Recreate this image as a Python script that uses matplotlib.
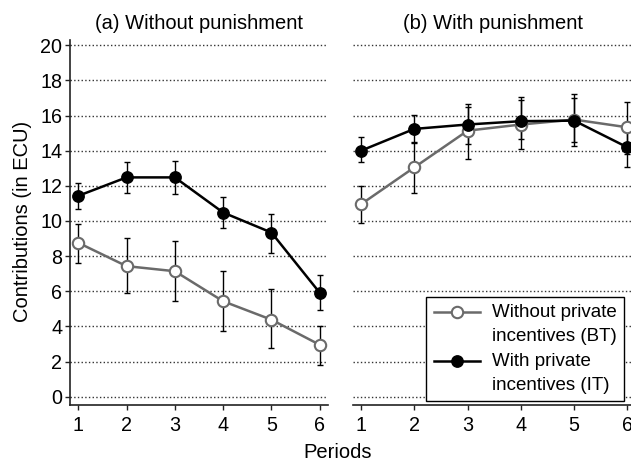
import numpy as np
import matplotlib
matplotlib.use("Agg")
import matplotlib.pyplot as plt
from matplotlib.legend_handler import HandlerLine2D

plt.rcParams['font.family'] = ['Liberation Sans', 'DejaVu Sans']

periods = [1, 2, 3, 4, 5, 6]
titles = ["(a) Without punishment", "(b) With punishment"]
legend_labels = ["Without private\nincentives (BT)", "With private\nincentives (IT)"]
yticks = [0, 2, 4, 6, 8, 10, 12, 14, 16, 18, 20]

# Panel (a): without punishment
a_bt = [8.76, 7.43, 7.14, 5.43, 4.38, 2.95]
a_bt_lo = [7.62, 5.91, 5.43, 3.71, 2.76, 1.81]
a_bt_hi = [9.81, 9.05, 8.86, 7.14, 6.10, 4.00]
a_it = [11.43, 12.48, 12.48, 10.48, 9.34, 5.91]
a_it_lo = [10.67, 11.62, 11.53, 9.62, 8.19, 4.95]
a_it_hi = [12.15, 13.34, 13.43, 11.34, 10.38, 6.95]

# Panel (b): with punishment
b_bt = [10.95, 13.05, 15.14, 15.49, 15.77, 15.33]
b_bt_lo = [9.90, 11.62, 13.52, 14.10, 14.48, 13.81]
b_bt_hi = [12.00, 14.44, 16.50, 16.86, 17.00, 16.76]
b_it = [14.00, 15.24, 15.49, 15.68, 15.71, 14.19]
b_it_lo = [13.34, 14.48, 14.38, 14.67, 14.29, 13.05]
b_it_hi = [14.76, 16.04, 16.67, 17.05, 17.24, 15.30]

W, H = 631, 462
fig = plt.figure(figsize=(W / 100, H / 100), dpi=100)

ymin, ymax = -0.474, 20.3
ax_top = 40
ax_bot = 405
axA = fig.add_axes([70 / W, (H - ax_bot) / H, 258 / W, (ax_bot - ax_top) / H])
axB = fig.add_axes([352.7 / W, (H - ax_bot) / H, 283.1 / W, (ax_bot - ax_top) / H])

grey = '#6a6a6a'
fs_tick = 14.2


class UpHandler(HandlerLine2D):
    def __init__(self, shift, **kw):
        super().__init__(**kw)
        self.shift = shift

    def create_artists(self, legend, orig_handle, xdescent, ydescent,
                       width, height, fontsize, trans):
        return super().create_artists(legend, orig_handle, xdescent,
                                      ydescent - 2 * self.shift, width,
                                      height, fontsize, trans)


def draw(ax, bt, bt_lo, bt_hi, it, it_lo, it_hi):
    x = np.array(periods)
    for m, lo, hi in ((bt, bt_lo, bt_hi), (it, it_lo, it_hi)):
        m = np.array(m); lo = np.array(lo); hi = np.array(hi)
        ax.errorbar(x, m, yerr=[m - lo, hi - m], fmt='none', ecolor='black',
                    elinewidth=1.0, capsize=2.4, capthick=1.0, zorder=2)
    l1, = ax.plot(x, bt, color=grey, lw=1.8, marker='o', ms=8.2,
                  mfc='white', mec=grey, mew=1.5, zorder=3)
    l2, = ax.plot(x, it, color='black', lw=1.8, marker='o', ms=8.2,
                  mfc='black', mec='black', zorder=4)
    ax.set_ylim(ymin, ymax)
    ax.set_yticks(yticks)
    ax.grid(axis='y', linestyle=':', color='#333333', linewidth=1.0, zorder=0)
    ax.set_axisbelow(True)
    ax.set_xticks(periods)
    ax.spines['top'].set_visible(False)
    ax.spines['right'].set_visible(False)
    ax.spines['bottom'].set_color('#222222')
    ax.spines['left'].set_color('#222222')
    ax.spines['bottom'].set_linewidth(1.2)
    ax.spines['left'].set_linewidth(1.2)
    ax.tick_params(axis='both', direction='out', length=3.6, width=1.0,
                   color='#222222', labelsize=fs_tick)
    ax.tick_params(axis='x', pad=4.5)
    ax.tick_params(axis='y', pad=2)
    return l1, l2


draw(axA, a_bt, a_bt_lo, a_bt_hi, a_it, a_it_lo, a_it_hi)
axA.set_xlim(0.83, 6.17)
l1, l2 = draw(axB, b_bt, b_bt_lo, b_bt_hi, b_it, b_it_lo, b_it_hi)
axB.set_xlim(0.844, 6.156)
axB.spines['left'].set_visible(False)
axB.tick_params(axis='y', left=False, labelleft=False)

fig.text(199 / W, (H - 29) / H, titles[0], ha='center', va='baseline', fontsize=14.5)
fig.text(493 / W, (H - 29) / H, titles[1], ha='center', va='baseline', fontsize=14.5)
fig.text(338 / W, (H - 457.5) / H, "Periods", ha='center', va='baseline', fontsize=14.5)
fig.text(23 / W, (H - 221) / H, "Contributions (in ECU)", ha='center', va='center',
         rotation=90, fontsize=14.5)

leg = fig.legend([l1, l2], legend_labels,
                 handler_map={l1: UpHandler(9.0), l2: UpHandler(9.0)},
                 loc='upper left', bbox_to_anchor=(426 / W, (H - 296.7) / H),
                 bbox_transform=fig.transFigure, borderaxespad=0,
                 fontsize=13.5, frameon=True, fancybox=False, framealpha=1,
                 edgecolor='black', handlelength=2.5, handletextpad=0.6,
                 borderpad=0.4, labelspacing=0.45, numpoints=1)
for t in leg.get_texts():
    t.set_linespacing(1.5)
leg.get_frame().set_linewidth(1.0)

fig.savefig("out.png", dpi=100)
